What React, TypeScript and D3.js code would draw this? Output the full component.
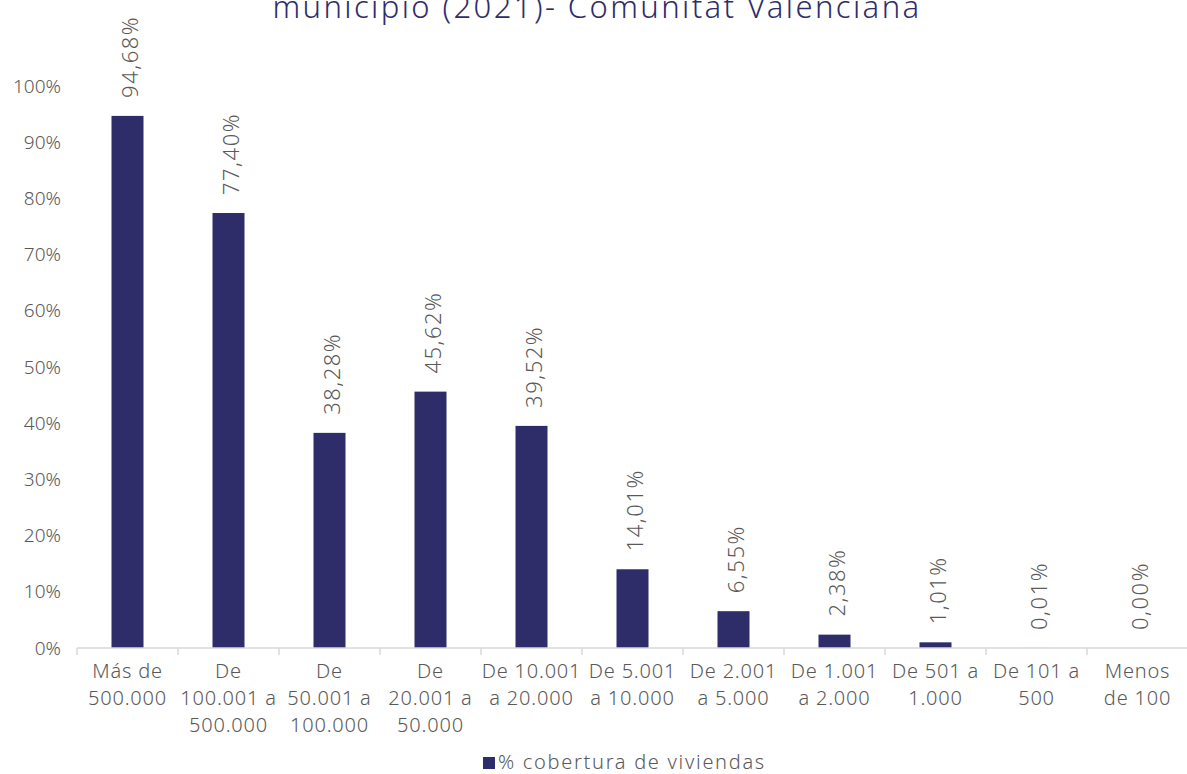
import React from "react";
import * as d3 from "d3";

const categories: string[][] = [
  ["Más de", "500.000"],
  ["De", "100.001 a", "500.000"],
  ["De", "50.001 a", "100.000"],
  ["De", "20.001 a", "50.000"],
  ["De 10.001", "a 20.000"],
  ["De 5.001", "a 10.000"],
  ["De 2.001", "a 5.000"],
  ["De 1.001", "a 2.000"],
  ["De 501 a", "1.000"],
  ["De 101 a", "500"],
  ["Menos", "de 100"],
];
const values: number[] = [94.68, 77.4, 38.28, 45.62, 39.52, 14.01, 6.55, 2.38, 1.01, 0.01, 0.0];
const yTicks: number[] = [0, 10, 20, 30, 40, 50, 60, 70, 80, 90, 100];
const seriesName = "% cobertura de viviendas";
const titleLine = "municipio (2021)- Comunitat Valenciana";

const W = 1187;
const H = 774;
const FONT = "'Noto Sans', sans-serif";
const BAR = "#2F2D69";
const TXT = "#595959";

export default function App() {
  const ids = categories.map((_, i) => String(i));
  const x = d3.scaleBand<string>().domain(ids).range([77, 1188]).paddingInner(0).paddingOuter(0);
  const y = d3.scaleLinear().domain([0, 100]).range([648, 86]);
  const bw = 32;
  const fmt = (v: number) => v.toFixed(2).replace(".", ",") + "%";

  return (
    <svg width={W} height={H} style={{ position: "absolute", left: 0, top: 0, background: "#fff" }} fontFamily={FONT} fontWeight={300}>
      <text x={597} y={18} textAnchor="middle" fontSize={31} letterSpacing={2.4} fill="#2E2D6B">{titleLine}</text>
      {yTicks.map((t) => (
        <text key={t} x={61} y={y(t)} dy="0.35em" textAnchor="end" fontSize={19} fill={TXT}>{t}%</text>
      ))}
      {ids.map((id, i) => {
        const cx = (x(id) as number) + x.bandwidth() / 2;
        const v = values[i];
        return (
          <g key={id}>
            <rect x={cx - bw / 2} y={y(v)} width={bw} height={y(0) - y(v)} fill={BAR} />
            <text transform={`translate(${cx + 10},${y(v) - 18}) rotate(-90)`} fontSize={22} letterSpacing={1.5} fill={TXT}>{fmt(v)}</text>
            {categories[i].map((ln, j) => (
              <text key={j} x={cx} y={678 + j * 27} textAnchor="middle" fontSize={20} letterSpacing={0.8} fill={TXT}>{ln}</text>
            ))}
          </g>
        );
      })}
      <line x1={77} x2={1188} y1={648} y2={648} stroke="#D9D9D9" strokeWidth={1.5} />
      {[...ids, "end"].map((id, i) => {
        const tx = 77 + i * x.bandwidth();
        return <line key={"t" + i} x1={tx} x2={tx} y1={648} y2={655} stroke="#D9D9D9" strokeWidth={1.5} />;
      })}
      <rect x={483} y={757} width={12} height={12} fill={BAR} />
      <text x={498} y={769} fontSize={20} letterSpacing={1.7} fill={TXT}>{seriesName}</text>
    </svg>
  );
}
